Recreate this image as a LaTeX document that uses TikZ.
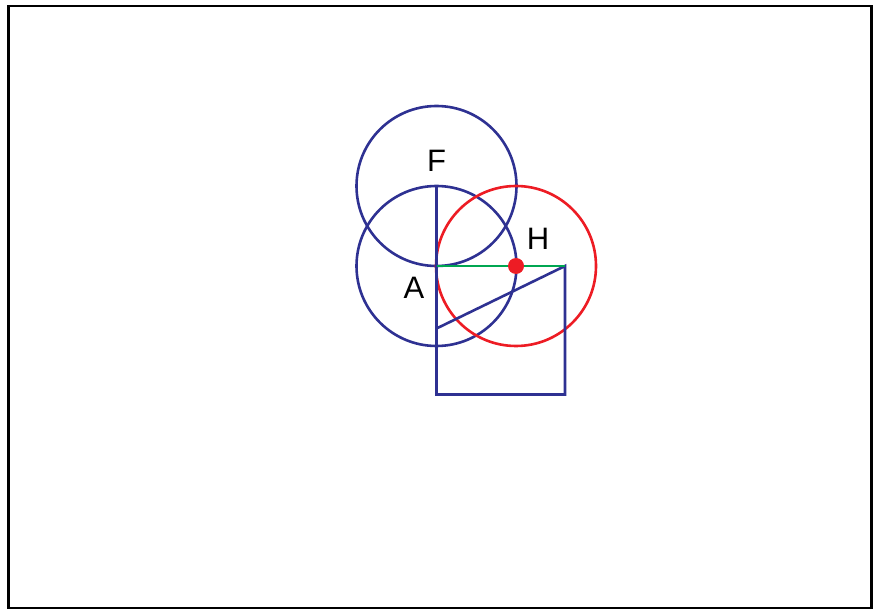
\documentclass[tikz,border=0pt]{standalone}
\usepackage{fontspec}
\setmainfont{Liberation Sans}
\definecolor{gblue}{RGB}{46,49,146}
\definecolor{gred}{RGB}{237,28,36}
\definecolor{ggreen}{RGB}{0,166,81}
\begin{document}
\begin{tikzpicture}[x=1pt,y=-1pt,
  bl/.style={draw=gblue,line width=2.6pt},
  rd/.style={draw=gred,line width=2.6pt},
  lbl/.style={font=\fontsize{31}{32}\selectfont,inner sep=0pt}]
\useasboundingbox (0,0) rectangle (875,609);
\draw[line width=2.8pt] (8.5,6) rectangle (871.5,608);
\coordinate (A) at (436.5,266);
\coordinate (F) at (436.5,186);
\coordinate (H) at (516,266);
\coordinate (S1) at (565,266);
\coordinate (S2) at (565,394.5);
\coordinate (S3) at (436.5,394.5);
\coordinate (D) at (436.5,328.5);
\draw[bl] (A) circle (80);
\draw[bl] (F) circle (80);
\draw[rd] (H) circle (80);
\draw[bl] (F) -- (S3) -- (S2) -- (S1) -- (D);
\draw[draw=ggreen,line width=2.6pt] (A) -- (S1);
\fill[gred] (H) circle (8);
\node[lbl] (lF) at (436.5,160.5) {F};
\node[lbl] (lH) at (538,239) {H};
\node[lbl] (lA) at (414,288) {A};
\end{tikzpicture}
\end{document}
